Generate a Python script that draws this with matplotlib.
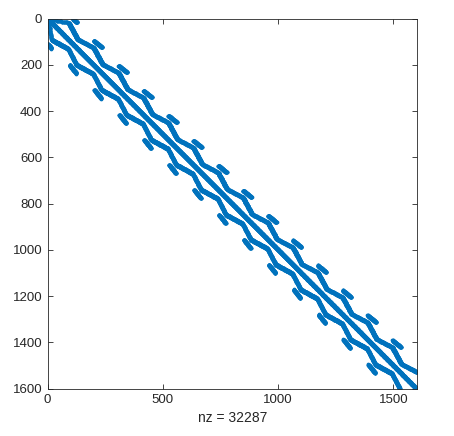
import numpy as np
import matplotlib.pyplot as plt

# matrix size and label
n = 1600
nz_label = 32287

# one period of the zig-zag band above the diagonal (row phase -> column offset)
period = 108
phase0 = 16
band_phase = [0, 72, 108]
band_offset = [74, 41, 74]

# short dashes further out, only in part of each period
dash_phase = [78, 108]
dash_offset = [105, 112]

# first rows: band starts from the corner
start_rows = [0, 16]
start_cols = [0, 90]

# half widths of main diagonal, band, dash (in columns)
hw_main = 1
hw_band = 1
hw_dash = 1


def build_pattern():
    rows = np.arange(n)
    t = (rows - phase0) % period
    off = np.interp(t, band_phase, band_offset)
    first = rows < start_rows[1]
    off[first] = np.interp(rows[first], start_rows, start_cols) - rows[first]

    r_all, c_all = [], []
    for r in rows:
        for d in range(-hw_main, hw_main + 1):
            r_all.append(r); c_all.append(r + d)
        c0 = int(round(r + off[r]))
        for d in range(-hw_band, hw_band + 1):
            r_all.append(r); c_all.append(c0 + d)
        if dash_phase[0] <= t[r] < dash_phase[1]:
            c1 = int(round(r + np.interp(t[r], dash_phase, dash_offset)))
            for d in range(-hw_dash, hw_dash + 1):
                r_all.append(r); c_all.append(c1 + d)
    r_all = np.array(r_all)
    c_all = np.array(c_all)
    ok = (c_all >= 0) & (c_all < n)
    r_all, c_all = r_all[ok], c_all[ok]
    # symmetric pattern
    rr = np.concatenate([r_all, c_all])
    cc = np.concatenate([c_all, r_all])
    idx = np.unique(rr * n + cc)
    return idx // n, idx % n


plt.rcParams['font.family'] = ['Liberation Sans', 'DejaVu Sans']
fig = plt.figure(figsize=(4.54, 4.36), dpi=100)
ax = fig.add_axes([0.105, 0.108, 0.813, 0.849])

rr, cc = build_pattern()
ax.plot(cc + 1, rr + 1, linestyle='none', marker='o', ms=2.7, mew=0, color='#0072BD')

ax.set_xlim(0, n + 1)
ax.set_ylim(n + 1, 0)
ax.set_xticks([0, 500, 1000, 1500])
ax.set_yticks(range(0, 1601, 200))
ax.set_xlabel('nz = %d' % nz_label, fontsize=10, color='#262626', labelpad=3)

ax.tick_params(direction='in', top=True, right=True, length=3.5, width=0.6,
               colors='#262626', labelsize=9.5, pad=4)
for s in ax.spines.values():
    s.set_linewidth(0.6)
    s.set_color('#262626')

plt.savefig('out.png', dpi=100)
